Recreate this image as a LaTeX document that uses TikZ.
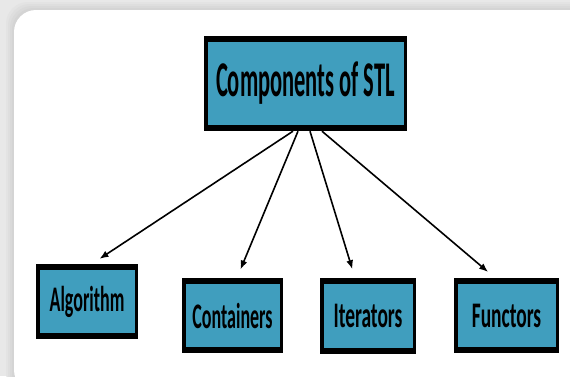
\documentclass[tikz,border=0pt]{standalone}
\usepackage{fontspec}
\setmainfont{Carlito}
\usepackage{graphicx}
\usetikzlibrary{arrows.meta}

\definecolor{stlblue}{RGB}{64,158,190}
\newcommand{\squeeze}[2][0.5]{\scalebox{#1}[1]{\bfseries #2}}

\tikzset{
  stlbox/.style={fill=black,inner sep=0pt,
    path picture={\fill[stlblue] ([xshift=3.5pt,yshift=6pt]path picture bounding box.south west)
      rectangle ([xshift=-3.5pt,yshift=-6pt]path picture bounding box.north east);}},
  stlarrow/.style={-{Latex[length=9pt,width=7pt]},line width=1.6pt,shorten >=9pt}
}

\begin{document}
\begin{tikzpicture}[x=1pt,y=-1pt]
          \useasboundingbox (0,0) rectangle (570,376);
          \fill[black!9] (0,0) rectangle (570,376);
          \foreach \s/\c in {8/black!11,6/black!13,4/black!15,2/black!17}
            \fill[\c,rounded corners=22pt] (14-\s,10-\s) rectangle (590,395);
          \fill[white,rounded corners=22pt] (14,10) rectangle (590,392);
          \node[stlbox,minimum width=203pt,minimum height=95pt] (stl) at (305.5,83.5)
            {\fontsize{50}{50}\selectfont\squeeze[0.45]{Components of STL}};
          \node[stlbox,minimum width=102pt,minimum height=75pt] (alg) at (87,301.5)
            {\fontsize{36}{36}\selectfont\squeeze{Algorithm}};
          \node[stlbox,minimum width=101pt,minimum height=75pt] (cont) at (232.5,315.5)
            {\fontsize{36}{36}\selectfont\squeeze{Containers}};
          \node[stlbox,minimum width=96pt,minimum height=76pt] (iter) at (368,316)
            {\fontsize{36}{36}\selectfont\squeeze[0.54]{Iterators}};
          \node[stlbox,minimum width=105pt,minimum height=75pt] (func) at (506.5,315.5)
            {\fontsize{36}{36}\selectfont\squeeze[0.54]{Functors}};
          \draw[stlarrow] ([xshift=-12.5pt]stl.south) -- ([xshift=5pt]alg.north);
          \draw[stlarrow] ([xshift=-7.5pt]stl.south) -- ([xshift=4.5pt]cont.north);
          \draw[stlarrow] ([xshift=4.5pt]stl.south) -- ([xshift=-13pt]iter.north);
          \draw[stlarrow] ([xshift=16.5pt]stl.south) -- ([xshift=-11.5pt]func.north);
        \end{tikzpicture}
\end{document}
